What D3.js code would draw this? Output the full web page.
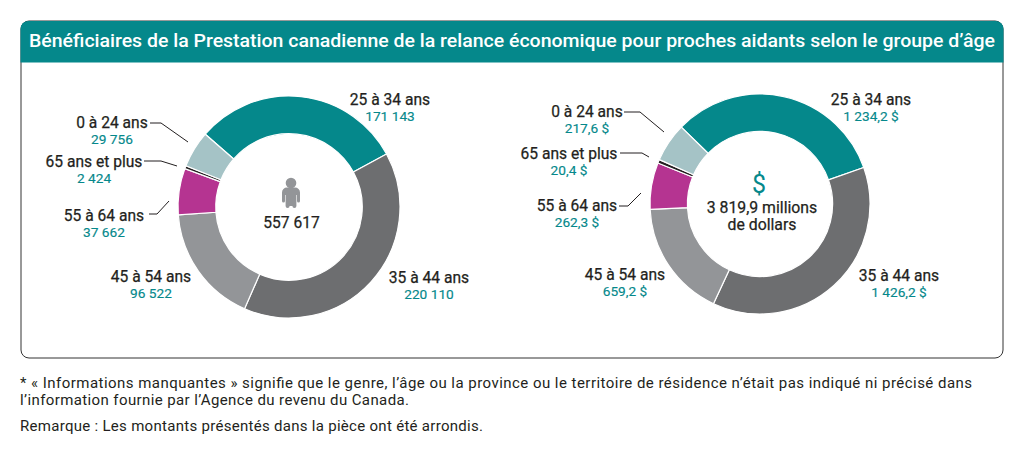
<!DOCTYPE html>
<html><head><meta charset="utf-8">
<script src="https://cdn.jsdelivr.net/npm/d3@7"></script>
<style>html,body{margin:0;padding:0;background:#fff}svg{display:block}text{font-family:Roboto,sans-serif}</style>
</head><body><svg id="c" width="1024" height="455"></svg>
<script>
const categories=["25 à 34 ans","35 à 44 ans","45 à 54 ans","55 à 64 ans","65 ans et plus","0 à 24 ans"];
const colors=["#05888b","#6d6e70","#939598","#b53491","#231f20","#a5c3c6"];
const beneficiaries=[171143,220110,96522,37662,2424,29756];
const beneficiaryLabels=["171 143","220 110","96 522","37 662","2 424","29 756"];
const amounts=[1234.2,1426.2,659.2,262.3,20.4,217.6];
const amountLabels=["1 234,2 $","1 426,2 $","659,2 $","262,3 $","20,4 $","217,6 $"];
const titleText="Bénéficiaires de la Prestation canadienne de la relance économique pour proches aidants selon le groupe d’âge";
const notes=["* « Informations manquantes » signifie que le genre, l’âge ou la province ou le territoire de résidence n’était pas indiqué ni précisé dans","l’information fournie par l’Agence du revenu du Canada.","Remarque : Les montants présentés dans la pièce ont été arrondis."];
const svg=d3.select("#c");
const ink="#231f20",teal="#05888b";
svg.append("rect").attr("x",21).attr("y",21).attr("width",982).attr("height",337).attr("rx",8).attr("fill","#fff").attr("stroke","#333").attr("stroke-width",1);
svg.append("path").attr("d","M20.5,62.5V29a8,8 0 0 1 8,-8H995.5a8,8 0 0 1 8,8V62.5Z").attr("fill",teal);
svg.append("text").attr("x",29).attr("y",47).attr("font-size",19).attr("font-weight",500).attr("fill","#fff").attr("textLength",966).attr("lengthAdjust","spacingAndGlyphs").text(titleText);
notes.forEach((t,i)=>svg.append("text").attr("x",20).attr("y",[387.5,405.2,431][i]).attr("font-size",15).attr("textLength",[952,389,463][i]).attr("lengthAdjust","spacing").attr("fill",ink).text(t));

function donut(cfg){
  const g=svg.append("g").attr("transform",`translate(${cfg.cx},${cfg.cy})`);
  const a0=cfg.start*Math.PI/180;
  const pie=d3.pie().sort(null).startAngle(a0).endAngle(a0+2*Math.PI);
  const arc=d3.arc().innerRadius(cfg.r*0.66).outerRadius(cfg.r);
  g.selectAll("path.s").data(pie(cfg.values)).join("path").attr("class","s").attr("d",arc)
   .attr("fill",(d,i)=>colors[i]).attr("stroke","#fff").attr("stroke-width",1.2);
  categories.forEach((c,i)=>{
    const p=cfg.labels[i];
    svg.append("text").attr("x",p[0]).attr("y",p[1]+1).attr("text-anchor","middle").attr("font-size",15.6).attr("stroke",ink).attr("stroke-width",0.25).attr("fill",ink).text(c);
    svg.append("text").attr("x",p[0]).attr("y",p[1]+17).attr("text-anchor","middle").attr("font-size",13.7).attr("stroke",teal).attr("stroke-width",0.15).attr("fill",teal).text(cfg.valueLabels[i]);
  });
  cfg.leaders.forEach(l=>svg.append("path").attr("d",d3.line()(l)).attr("fill","none").attr("stroke",ink).attr("stroke-width",1));
}
donut({cx:289,cy:207,r:111,start:-49,values:beneficiaries,valueLabels:beneficiaryLabels,
  labels:[[390,104],[429,282],[151,281],[104,220],[94,166],[112,127]],
  leaders:[[[150,123],[161,123],[188,142]],[[144,161],[161,161],[177,166]],[[149,214],[157,214],[169,201]]]});
donut({cx:760,cy:204,r:110,start:-45.7,values:amounts,valueLabels:amountLabels,
  labels:[[871,104],[899,280],[625,279],[577,210],[569,158],[587,116]],
  leaders:[[[624,112],[640,112],[664,132]],[[620,153],[642,153],[649,157]],[[619,206],[628,206],[641,193]]]});

// person icon
const person=svg.append("g").attr("fill","#939598");
person.append("circle").attr("cx",291).attr("cy",183).attr("r",5.3);
person.append("path").attr("d","M287,187.5h8a5,5 0 0 1 5,5v8.5a1.5,1.5 0 0 1 -3,0v-6h-0.6v11a2,2 0 0 1 -4,0h-2.8a2,2 0 0 1 -4,0v-11h-0.6v6a1.5,1.5 0 0 1 -3,0v-8.5a5,5 0 0 1 5,-5Z");
svg.append("text").attr("x",291.5).attr("y",228).attr("text-anchor","middle").attr("font-size",15.6).attr("stroke",ink).attr("stroke-width",0.25).attr("fill",ink).text("557 617");
svg.append("text").attr("x",759).attr("y",193).attr("text-anchor","middle").attr("font-size",25).attr("font-weight",400).attr("fill",teal).text("$");
svg.append("text").attr("x",762).attr("y",213).attr("text-anchor","middle").attr("font-size",15.8).attr("stroke",ink).attr("stroke-width",0.25).attr("fill",ink).text("3 819,9 millions");
svg.append("text").attr("x",762).attr("y",230).attr("text-anchor","middle").attr("font-size",15.8).attr("stroke",ink).attr("stroke-width",0.25).attr("fill",ink).text("de dollars");
</script></body></html>
